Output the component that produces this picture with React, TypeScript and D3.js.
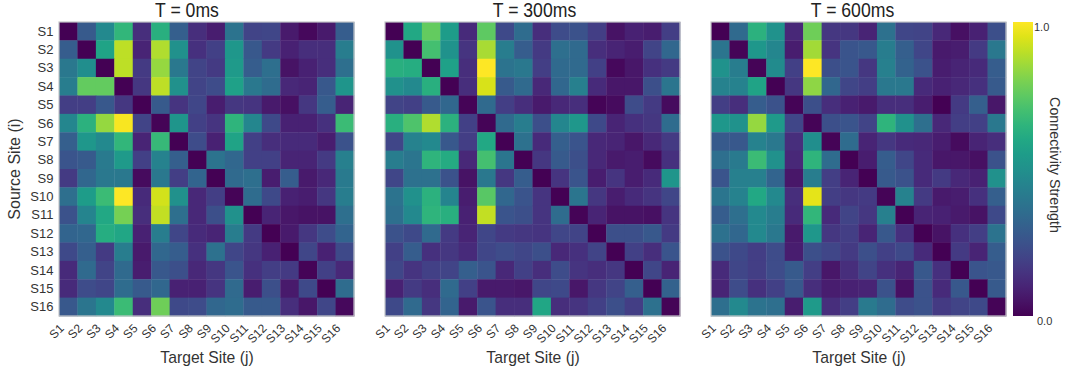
import React from "react";
import * as d3 from "d3";

const sites = ["S1","S2","S3","S4","S5","S6","S7","S8","S9","S10","S11","S12","S13","S14","S15","S16"];
const titles = ["T = 0ms", "T = 300ms", "T = 600ms"];
const titleCenters = [187, 534.5, 852.5];
const t0 = [
[0,.28,.47,.66,.13,.63,.30,.13,.08,.38,.20,.21,.07,.02,.07,.29],
[.29,0,.58,.90,.10,.88,.50,.14,.19,.53,.27,.17,.09,.13,.13,.42],
[.40,.49,0,.90,.17,.84,.40,.20,.17,.54,.29,.36,.05,.09,.13,.36],
[.42,.76,.76,0,.16,.90,.50,.20,.23,.57,.40,.35,.11,.10,.27,.52],
[.18,.18,.27,.16,0,.28,.15,.21,.08,.16,.15,.07,.04,.16,.29,.10],
[.46,.64,.84,.99,.20,.01,.52,.19,.15,.65,.46,.22,.09,.09,.14,.68],
[.30,.53,.47,.66,.10,.67,0,.23,.09,.58,.19,.13,.12,.12,.08,.25],
[.26,.28,.41,.54,.19,.44,.30,0,.38,.33,.19,.19,.10,.10,.17,.43],
[.17,.33,.40,.40,.03,.40,.18,.32,0,.34,.36,.08,.29,.07,.11,.41],
[.36,.55,.68,1,.12,.93,.50,.11,.18,.01,.35,.22,.09,.08,.16,.42],
[.25,.45,.60,.79,.13,.91,.36,.11,.24,.50,0,.10,.06,.05,.05,.36],
[.32,.33,.62,.59,.09,.42,.21,.12,.10,.42,.17,0,.07,.16,.23,.32],
[.22,.30,.17,.42,.07,.33,.29,.14,.37,.21,.16,.09,0,.21,.09,.22],
[.12,.34,.20,.34,.08,.27,.24,.11,.16,.26,.14,.18,.17,.01,.19,.11],
[.12,.23,.21,.35,.28,.33,.09,.09,.15,.34,.08,.24,.07,.22,0,.35],
[.27,.39,.47,.68,.13,.78,.22,.23,.33,.35,.28,.28,.13,.06,.21,.02],
];
const t300 = [
[0,.60,.76,.55,.12,.75,.22,.35,.13,.23,.25,.18,.05,.09,.08,.18],
[.51,0,.70,.51,.15,.87,.42,.29,.17,.36,.34,.13,.10,.08,.20,.33],
[.63,.62,0,.57,.13,1,.38,.40,.18,.34,.34,.19,.02,.06,.14,.17],
[.50,.47,.63,0,.13,.94,.28,.34,.11,.33,.43,.12,.06,.06,.24,.39],
[.20,.19,.28,.33,.01,.34,.18,.13,.07,.11,.13,.01,.03,.23,.17,.03],
[.63,.72,.88,.64,.19,.01,.34,.42,.24,.46,.53,.22,.10,.14,.16,.35],
[.21,.44,.47,.27,.18,.60,0,.37,.12,.30,.26,.11,.10,.06,.11,.17],
[.42,.39,.65,.61,.11,.70,.39,0,.16,.28,.24,.11,.07,.08,.03,.14],
[.21,.37,.37,.25,.05,.40,.16,.29,0,.15,.26,.08,.15,.08,.12,.52],
[.38,.50,.64,.45,.08,.74,.33,.26,.15,0,.39,.16,.08,.12,.15,.21],
[.36,.47,.65,.63,.09,.91,.26,.24,.15,.35,.01,.10,.05,.05,.04,.15],
[.25,.22,.34,.17,.10,.21,.17,.16,.15,.21,.20,0,.24,.24,.27,.17],
[.19,.29,.14,.16,.12,.21,.23,.21,.24,.11,.14,.20,0,.19,.13,.26],
[.21,.15,.19,.20,.30,.26,.11,.19,.13,.23,.15,.13,.16,0,.21,.10],
[.09,.17,.13,.34,.19,.07,.07,.06,.21,.22,.06,.16,.20,.30,0,.31],
[.22,.34,.16,.32,.07,.26,.13,.13,.59,.13,.15,.19,.24,.18,.37,.01],
];
const t600 = [
[0,.34,.64,.51,.11,.78,.16,.16,.10,.37,.21,.20,.11,.04,.09,.24],
[.39,.01,.53,.46,.08,.86,.15,.26,.27,.42,.30,.21,.07,.08,.17,.40],
[.51,.42,.01,.48,.19,1,.24,.26,.16,.43,.31,.25,.08,.10,.12,.29],
[.44,.44,.58,0,.16,.83,.33,.21,.18,.40,.40,.12,.09,.11,.14,.28],
[.18,.13,.29,.25,.01,.24,.13,.09,.07,.13,.13,.08,0,.17,.30,.06],
[.53,.51,.84,.54,.21,.01,.24,.26,.20,.65,.50,.36,.11,.18,.19,.40],
[.28,.27,.44,.40,.13,.49,.01,.35,.10,.16,.12,.11,.08,.03,.10,.13],
[.36,.41,.68,.50,.11,.65,.35,0,.08,.29,.21,.12,.06,.06,.04,.25],
[.26,.43,.43,.32,.06,.42,.18,.10,0,.28,.25,.12,.17,.11,.09,.50],
[.39,.44,.60,.47,.13,.96,.18,.16,.17,.01,.44,.17,.07,.08,.14,.30],
[.29,.36,.47,.42,.12,.66,.12,.20,.16,.43,0,.10,.09,.07,.05,.22],
[.37,.33,.47,.40,.07,.53,.16,.18,.10,.27,.14,0,.05,.14,.18,.38],
[.25,.22,.18,.23,.08,.24,.21,.17,.24,.19,.22,.12,0,.17,.10,.29],
[.12,.21,.18,.23,.28,.18,.06,.13,.20,.14,.10,.27,.14,0,.26,.27],
[.10,.23,.14,.19,.27,.13,.08,.09,.10,.25,.04,.25,.12,.27,0,.28],
[.36,.47,.38,.36,.08,.54,.13,.18,.41,.35,.23,.25,.17,.20,.22,.01],
];
const matrices = [t0, t300, t600];
const panelLefts = [59, 385, 711];
const panelW = 295;
const top = 22, bottom = 316;
const cbarX = 1013, cbarW = 20;
const font = '"Liberation Sans", Arial, sans-serif';
const ink = "#333333";

const y = d3.scaleBand().domain(sites).range([top, bottom]);
const color = d3.scaleSequential(d3.interpolateViridis).domain([0, 1]);
const cbarY = d3.scaleLinear().domain([0, 1]).range([bottom, top]);
const cbarStops = d3.range(0, 1.0001, 0.05);

export default function App() {
  return (
    <svg width={1067} height={377} style={{ position: "absolute", left: 0, top: 0, background: "#fff" }} fontFamily={font}>
      <defs>
        <linearGradient id="cb" x1="0" y1="1" x2="0" y2="0">
          {cbarStops.map((s) => <stop key={s} offset={s} stopColor={color(s)} />)}
        </linearGradient>
      </defs>
      {matrices.map((m, p) => {
        const left = panelLefts[p];
        const x = d3.scaleBand().domain(sites).range([left, left + panelW]);
        return (
          <g key={p}>
            <text transform={`translate(${titleCenters[p]},17) scale(0.86,1)`} fontSize={20.5} textAnchor="middle" fill="#222">{titles[p]}</text>
            {m.map((row, i) => row.map((v, j) => (
              <rect key={j} x={x(sites[j])} y={y(sites[i])} width={x.bandwidth() + 0.4} height={y.bandwidth() + 0.4} fill={color(v)} />
            )))}
            <rect x={left} y={top} width={panelW} height={bottom - top} fill="none" stroke="#c4c6c8" strokeWidth={1.2} />
            {sites.map((s) => {
              const cx = x(s)! + x.bandwidth() / 2;
              return (
                <text key={s} transform={`translate(${cx - 3.5},${329}) rotate(-45)`} fontSize={12} textAnchor="end" fill={ink}>{s}</text>
              );
            })}
            <text x={left + panelW / 2 + 0.5} y={363} fontSize={15.7} textAnchor="middle" fill={ink}>Target Site (j)</text>
            {p === 0 && sites.map((s) => (
              <text key={s} x={53.5} y={y(s)! + y.bandwidth() / 2 + 4.5} fontSize={13} textAnchor="end" fill={ink}>{s}</text>
            ))}
            {p === 0 && (
              <text transform={`translate(19.5,169) rotate(-90)`} fontSize={16} textAnchor="middle" fill={ink}>Source Site (i)</text>
            )}
          </g>
        );
      })}
      <rect x={cbarX} y={top} width={cbarW} height={bottom - top} fill="url(#cb)" />
      <text x={1034} y={cbarY(1) + 9} fontSize={11} fill={ink}>1.0</text>
      <text x={1037} y={cbarY(0) + 9} fontSize={11} fill={ink}>0.0</text>
      <text transform={`translate(1050,165) rotate(90)`} fontSize={14.3} textAnchor="middle" fill={ink}>Connectivity Strength</text>
    </svg>
  );
}
